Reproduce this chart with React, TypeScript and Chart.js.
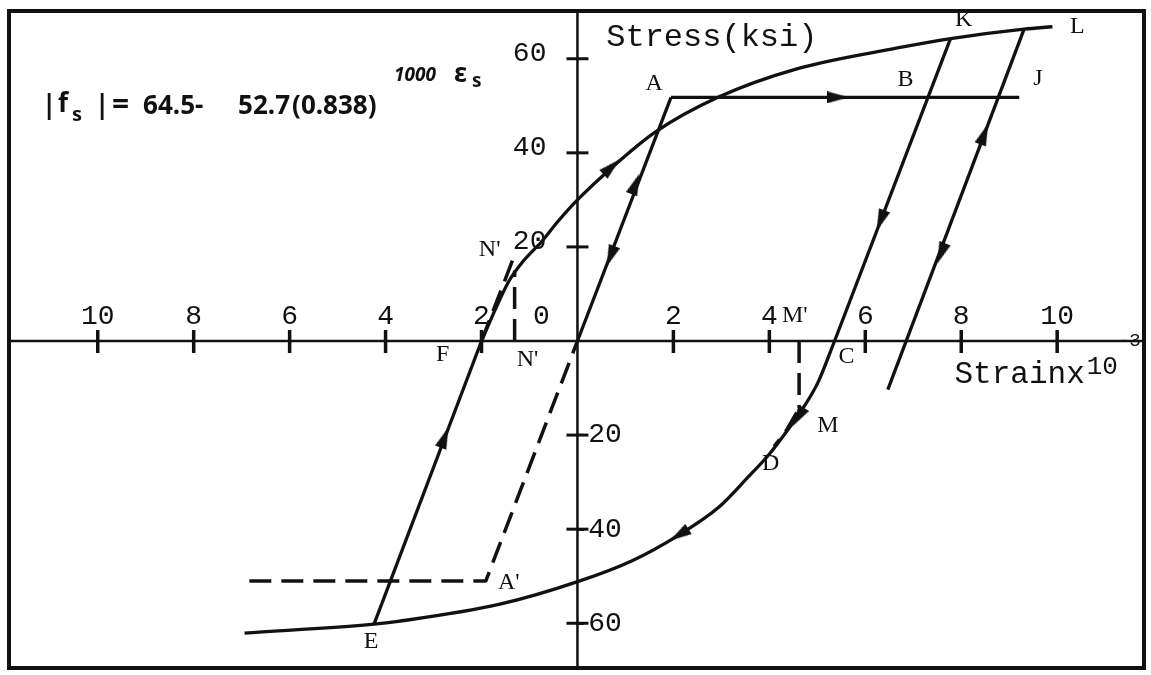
import React, { useEffect, useRef } from "react";
import { Chart, registerables } from "chart.js";

Chart.register(...registerables);

const INK = "#111111";

// ---- axis ranges (strain x10^-3, stress ksi) ----
const X_MIN = -11.85;
const X_MAX = 11.81;
const Y_MIN = -69.51;
const Y_MAX = 70.15;

// ---- tick values & labels ----
const xTickValues = [-10, -8, -6, -4, -2, 0, 2, 4, 6, 8, 10];
const xTickLabels = ["10", "8", "6", "4", "2", "0", "2", "4", "6", "8", "10"];
const yTickValues = [60, 40, 20, -20, -40, -60];
const yTickLabels = ["60", "40", "20", "-20", "-40", "-60"];

// ---- series ----
const elasticOA = [{ x: 0, y: 0 }, { x: 1.95, y: 51.8 }];
const yieldPlateauAJ = [{ x: 1.95, y: 51.8 }, { x: 9.21, y: 51.8 }];
const unloadKC = [{ x: 7.78, y: 64.4 }, { x: 5.36, y: 0 }];
const unloadLine = [{ x: 9.31, y: 66.3 }, { x: 6.47, y: -10.35 }];
const reloadEF = [{ x: -4.24, y: -60.2 }, { x: -2.0, y: 0 }];
const upperCurveFL = [
  { x: -2.0, y: 0 },
  { x: -1.7, y: 7.0 },
  { x: -1.43, y: 12.7 },
  { x: -1.12, y: 17.1 },
  { x: -0.75, y: 21.1 },
  { x: -0.4, y: 25.5 },
  { x: 0.02, y: 30.2 },
  { x: 0.71, y: 36.8 },
  { x: 1.62, y: 44.4 },
  { x: 2.93, y: 51.8 },
  { x: 4.59, y: 57.9 },
  { x: 6.67, y: 62.3 },
  { x: 7.78, y: 64.3 },
  { x: 9.31, y: 66.3 },
  { x: 9.9, y: 66.8 },
];
const lowerCurveEC = [
  { x: -6.94, y: -62.1 },
  { x: -4.24, y: -60.2 },
  { x: -3.74, y: -59.6 },
  { x: -1.64, y: -56.0 },
  { x: 0.02, y: -51.1 },
  { x: 1.14, y: -46.7 },
  { x: 2.12, y: -41.2 },
  { x: 2.95, y: -35.3 },
  { x: 3.56, y: -28.9 },
  { x: 4.01, y: -23.9 },
  { x: 4.39, y: -18.8 },
  { x: 4.68, y: -14.6 },
  { x: 5.01, y: -8.9 },
  { x: 5.36, y: 0 },
];
const dashedA = [{ x: -6.84, y: -51 }, { x: -1.91, y: -51 }, { x: 0, y: 0 }];
const dashedNDiag = [{ x: -2.0, y: 0 }, { x: -1.34, y: 17.5 }];
const dashedNVert = [{ x: -1.31, y: 0 }, { x: -1.31, y: 15 }];
const dashedMVert = [{ x: 4.62, y: 0 }, { x: 4.62, y: -14.2 }];
const dashedMD = [{ x: 4.57, y: -15.2 }, { x: 4.33, y: -19.4 }, { x: 4.1, y: -22.4 }];

// ---- arrow heads (position + direction in degrees, clockwise from up) ----
const arrowX = [1.21, 0.69, 0.71, 5.43, 6.32, 8.48, 7.58, -2.77, 2.12, 4.6];
const arrowY = [33.4, 18.0, 37.0, 51.8, 25.6, 44.0, 18.6, -20.5, -41.2, -16.2];
const arrowDir = [21, 201, 47, 90, 201, 21, 201, 21, 238, 212];

// ---- point labels ----
const pointLabels = ["A", "B", "J", "K", "L", "N'", "N'", "F", "C", "M'", "M", "D", "E", "A'"];
const pointLabelX = [1.6, 6.84, 9.6, 8.05, 10.42, -1.83, -1.04, -2.81, 5.61, 4.53, 5.22, 4.03, -4.3, -1.43];
const pointLabelY = [54.7, 55.6, 55.8, 68.2, 66.8, 19.4, -4.0, -3.0, -3.4, 5.3, -18.0, -26.0, -64.0, -51.3];

const yAxisTitle = "Stress(ksi)";
const xAxisTitle = "Strainx";
const xAxisTitleExp = "10";
const xAxisTitleExp2 = "-3";
const formulaMain = ["|", "f", "|", "=", "64.5-", "52.7", "(0.838)"];

function lineDs(data: { x: number; y: number }[], dashed = false, curve = false) {
  return {
    data,
    showLine: true,
    borderColor: INK,
    backgroundColor: INK,
    borderWidth: dashed ? 3.5 : 3.3,
    borderDash: dashed ? [22, 10] : [],
    pointRadius: 0,
    pointHoverRadius: 0,
    tension: 0,
    cubicInterpolationMode: curve ? "monotone" : "default",
    borderJoinStyle: "round",
    fill: false,
  };
}

const labelsPlugin = {
  id: "hysteresisAxes",
  beforeDatasetsDraw(chart: any) {
    const { ctx, chartArea: a, scales } = chart;
    const xs = scales.x;
    const ys = scales.y;
    const x0 = xs.getPixelForValue(0);
    const y0 = ys.getPixelForValue(0);
    ctx.save();
    ctx.strokeStyle = INK;
    ctx.lineWidth = 4;
    ctx.strokeRect(a.left, a.top, a.right - a.left, a.bottom - a.top);
    ctx.lineWidth = 2.5;
    ctx.beginPath();
    ctx.moveTo(a.left, y0);
    ctx.lineTo(a.right, y0);
    ctx.moveTo(x0, a.top);
    ctx.lineTo(x0, a.bottom);
    ctx.stroke();
    ctx.lineWidth = 3.5;
    xTickValues.forEach((v) => {
      if (v === 0) return;
      const px = xs.getPixelForValue(v);
      ctx.beginPath();
      ctx.moveTo(px, y0 - 11);
      ctx.lineTo(px, y0 + 12);
      ctx.stroke();
    });
    ctx.lineWidth = 3;
    yTickValues.forEach((v) => {
      const py = ys.getPixelForValue(v);
      ctx.beginPath();
      ctx.moveTo(x0 - 11, py);
      ctx.lineTo(x0 + 11, py);
      ctx.stroke();
    });
    ctx.restore();
  },
  afterDatasetsDraw(chart: any) {
    const { ctx, scales } = chart;
    const xs = scales.x;
    const ys = scales.y;
    const x0 = xs.getPixelForValue(0);
    const y0 = ys.getPixelForValue(0);
    ctx.save();
    ctx.fillStyle = INK;
    // x tick labels
    ctx.font = '28px "Liberation Mono", monospace';
    ctx.textAlign = "center";
    ctx.textBaseline = "middle";
    xTickValues.forEach((v, i) => {
      const px = v === 0 ? x0 - 36 : xs.getPixelForValue(v);
      ctx.fillText(xTickLabels[i], px, y0 - 24);
    });
    // y tick labels
    yTickValues.forEach((v, i) => {
      const py = ys.getPixelForValue(v);
      if (v > 0) {
        ctx.textAlign = "right";
        ctx.fillText(yTickLabels[i], x0 - 31, py - 5);
      } else {
        ctx.textAlign = "left";
        ctx.fillText(yTickLabels[i], x0 - 6, py);
      }
    });
    // axis titles
    ctx.textAlign = "left";
    ctx.font = '32px "Liberation Mono", monospace';
    ctx.fillText(yAxisTitle, xs.getPixelForValue(0.6), ys.getPixelForValue(64.6));
    const sx = xs.getPixelForValue(7.86);
    const sy = ys.getPixelForValue(-7.2);
    ctx.font = '31px "Liberation Mono", monospace';
    ctx.fillText(xAxisTitle, sx, sy);
    const w = ctx.measureText(xAxisTitle).width;
    ctx.font = '26px "Liberation Mono", monospace';
    ctx.fillText(xAxisTitleExp, sx + w + 2, sy - 8);
    const w2 = ctx.measureText(xAxisTitleExp).width;
    ctx.font = '19px "Liberation Mono", monospace';
    ctx.fillText(xAxisTitleExp2, sx + w + w2 + 2, sy - 34);
    // point labels
    ctx.font = '24px "Liberation Serif", serif';
    ctx.textAlign = "center";
    pointLabels.forEach((t, i) => {
      ctx.fillText(t, xs.getPixelForValue(pointLabelX[i]), ys.getPixelForValue(pointLabelY[i]));
    });
    // formula
    const fx = xs.getPixelForValue(-11.16);
    const fy = ys.getPixelForValue(48.2);
    ctx.textAlign = "left";
    ctx.textBaseline = "alphabetic";
    const offs = [0, 16, 53, 70, 101, 196, 250];
    formulaMain.forEach((t, i) => {
      ctx.font = i === 3 ? 'bold 30px "Noto Sans", sans-serif' : 'bold 26px "Noto Sans", sans-serif';
      ctx.fillText(t, fx + offs[i], fy + (i === 1 ? -2 : 0));
    });
    ctx.font = 'bold 20px "Noto Sans", sans-serif';
    ctx.fillText("s", fx + 30, fy + 7);
    ctx.font = 'italic bold 19px "Noto Sans", sans-serif';
    ctx.fillText("1000", fx + 352, fy - 33);
    ctx.font = 'bold 26px "Noto Sans", sans-serif';
    ctx.fillText("\u03b5", fx + 412, fy - 32);
    ctx.font = 'bold 19px "Noto Sans", sans-serif';
    ctx.fillText("s", fx + 430, fy - 27);
    ctx.restore();
  },
};

export default function App() {
  const ref = useRef<HTMLCanvasElement>(null);
  useEffect(() => {
    const arrow = document.createElement("canvas");
    arrow.width = 12;
    arrow.height = 22;
    const actx = arrow.getContext("2d")!;
    actx.fillStyle = INK;
    actx.beginPath();
    actx.moveTo(6, 0);
    actx.lineTo(12, 22);
    actx.lineTo(0, 22);
    actx.closePath();
    actx.fill();

    const arrowData = arrowX.map((x, i) => ({ x, y: arrowY[i] }));

    const chart = new Chart(ref.current!, {
      type: "scatter",
      data: {
        datasets: [
          lineDs(elasticOA),
          lineDs(yieldPlateauAJ),
          lineDs(unloadKC),
          lineDs(unloadLine),
          lineDs(reloadEF),
          lineDs(upperCurveFL, false, true),
          lineDs(lowerCurveEC, false, true),
          lineDs(dashedA, true),
          lineDs(dashedNDiag, true),
          lineDs(dashedNVert, true),
          lineDs(dashedMVert, true),
          lineDs(dashedMD, true),
          {
            data: arrowData,
            showLine: false,
            pointStyle: arrow,
            pointRadius: 6,
            pointHoverRadius: 6,
            rotation: (c: any) => arrowDir[c.dataIndex] ?? 0,
            backgroundColor: INK,
            borderColor: INK,
          },
        ] as any,
      },
      options: {
        animation: false,
        responsive: true,
        maintainAspectRatio: false,
        events: [],
        layout: { padding: { left: 9, top: 11, right: 4, bottom: 3 } },
        plugins: { legend: { display: false }, tooltip: { enabled: false } },
        scales: {
          x: { type: "linear", min: X_MIN, max: X_MAX, display: false },
          y: { type: "linear", min: Y_MIN, max: Y_MAX, display: false },
        },
      },
      plugins: [labelsPlugin],
    });
    return () => chart.destroy();
  }, []);
  return (
    <div style={{ position: "absolute", left: 0, top: 0, width: 1151, height: 675, background: "#fff" }}>
      <canvas ref={ref} />
    </div>
  );
}
